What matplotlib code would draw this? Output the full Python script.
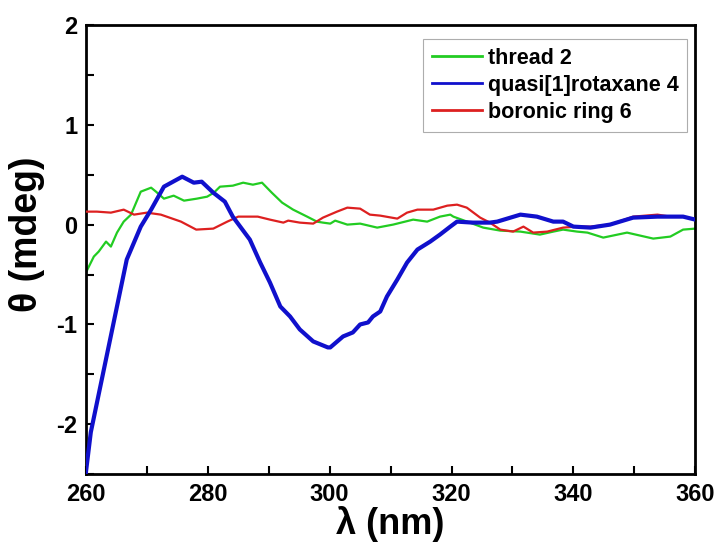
import matplotlib
matplotlib.use("Agg")
import matplotlib.pyplot as plt
from matplotlib.lines import Line2D
from matplotlib.ticker import MultipleLocator

plt.rcParams['font.family'] = ['Liberation Sans', 'DejaVu Sans']
plt.rcParams['font.weight'] = 'bold'
plt.rcParams['axes.unicode_minus'] = False

# thread 2 (green)
green_x = [260, 261.3, 262.1, 263.3, 264.1, 265.1, 266.2, 267.4, 269, 270.7, 271.5, 272.8, 274.4, 276.1,
           278.2, 279.9, 281, 282, 284.1, 285.8, 287.4, 288.9, 290.5, 292.2, 294, 296.3, 297.9, 298.9,
           300.1, 300.9, 302.9, 305, 307.8, 310.4, 313.7, 316, 318.1, 319.8, 320.3, 323, 325.2, 328,
           331.3, 334.5, 336.7, 338.3, 340.6, 342.3, 344.9, 348.8, 353.1, 355.9, 358, 360]
green_y = [-0.48, -0.32, -0.27, -0.17, -0.22, -0.08, 0.03, 0.10, 0.33, 0.37, 0.33, 0.26, 0.29, 0.24,
           0.26, 0.28, 0.32, 0.38, 0.39, 0.42, 0.40, 0.42, 0.32, 0.22, 0.15, 0.08, 0.03, 0.02,
           0.01, 0.04, 0.00, 0.01, -0.03, 0.00, 0.05, 0.03, 0.08, 0.10, 0.08, 0.02, -0.03, -0.06,
           -0.07, -0.10, -0.07, -0.05, -0.07, -0.08, -0.13, -0.08, -0.14, -0.12, -0.05, -0.04]

# quasi[1]rotaxane 4 (blue)
blue_x = [260, 260.8, 266.7, 269, 270.7, 272.8, 275.8, 277.7, 279, 280.9, 282.8, 284.1, 286.9, 288.6,
          290.2, 291.9, 293.5, 295.1, 297.3, 299.7, 300.1, 302.2, 303.8, 305, 306.3, 307.1, 308.3,
          309.4, 311.1, 312.7, 314.4, 316.5, 318.1, 319.8, 320.9, 323.5, 326.3, 327.5, 331.3, 334,
          336.7, 338.3, 340, 342.8, 346, 349.8, 353.8, 358, 360]
blue_y = [-2.48, -2.08, -0.35, -0.02, 0.15, 0.38, 0.48, 0.42, 0.43, 0.32, 0.23, 0.08, -0.15, -0.38,
          -0.58, -0.82, -0.92, -1.05, -1.17, -1.23, -1.23, -1.12, -1.08, -1.00, -0.98, -0.92, -0.87,
          -0.72, -0.55, -0.38, -0.25, -0.17, -0.10, -0.02, 0.03, 0.02, 0.02, 0.03, 0.10, 0.08,
          0.03, 0.03, -0.02, -0.03, 0.00, 0.07, 0.08, 0.08, 0.05]

# boronic ring 6 (red)
red_x = [260, 261.8, 264.1, 266.2, 267.9, 270, 272.3, 275.6, 278.1, 280.9, 283.2, 285, 288.2, 290.2,
         292.4, 293.2, 295.1, 297.3, 298.9, 301.2, 302.9, 305, 306.6, 308.3, 311.1, 312.7, 314.4,
         317, 319.3, 320.9, 322.5, 324.7, 326.3, 328, 330.1, 331.8, 333.4, 335.7, 338.3, 340.6,
         342.8, 346, 349.8, 353.8, 355.9, 358, 360]
red_y = [0.13, 0.13, 0.12, 0.15, 0.10, 0.12, 0.10, 0.03, -0.05, -0.04, 0.03, 0.08, 0.08, 0.05,
         0.02, 0.04, 0.02, 0.01, 0.07, 0.13, 0.17, 0.16, 0.10, 0.09, 0.06, 0.12, 0.15,
         0.15, 0.19, 0.20, 0.17, 0.07, 0.02, -0.05, -0.07, -0.02, -0.08, -0.07, -0.03, -0.02,
         -0.02, 0.00, 0.08, 0.10, 0.08, 0.08, 0.05]

labels = ['thread 2', 'quasi[1]rotaxane 4', 'boronic ring 6']
colors = ['#22cc22', '#1010cc', '#dd2020']
xticks = [260, 280, 300, 320, 340, 360]
yticks = [-2, -1, 0, 1, 2]

fig = plt.figure(figsize=(7.22, 5.54), dpi=100)
ax = fig.add_axes([0.119, 0.144, 0.844, 0.811])

ax.plot(green_x, green_y, color=colors[0], lw=1.6, zorder=2)
ax.plot(red_x, red_y, color=colors[2], lw=1.6, zorder=3)
ax.plot(blue_x, blue_y, color=colors[1], lw=3.0, zorder=4)

ax.set_xlim(260, 360)
ax.set_ylim(-2.5, 2)
ax.set_xticks(xticks)
ax.set_yticks(yticks)
ax.xaxis.set_minor_locator(MultipleLocator(10))
ax.yaxis.set_minor_locator(MultipleLocator(0.5))
ax.tick_params(which='both', direction='in', width=1.5, top=False, right=False)
ax.tick_params(which='major', length=6, labelsize=17, pad=6)
ax.tick_params(which='minor', length=6)
for lab in ax.get_xticklabels() + ax.get_yticklabels():
    lab.set_fontweight('bold')
for s in ax.spines.values():
    s.set_linewidth(2)

ax.set_xlabel('λ (nm)', fontsize=26, fontweight='bold', labelpad=0)
ax.set_ylabel('θ (mdeg)', fontsize=27, fontweight='bold')
ax.yaxis.set_label_coords(-0.067, 0.535)

handles = [Line2D([], [], color=c, lw=2) for c in colors]
leg = ax.legend(handles, labels, loc='upper right', bbox_to_anchor=(0.987, 0.968),
                fancybox=False, frameon=True, prop={'weight': 'bold', 'size': 15.5},
                handlelength=2.3, handletextpad=0.3, borderpad=0.4, labelspacing=0.28,
                borderaxespad=0)
leg.get_frame().set_edgecolor('#999999')
leg.get_frame().set_linewidth(0.8)

fig.savefig('out.png', dpi=100)
